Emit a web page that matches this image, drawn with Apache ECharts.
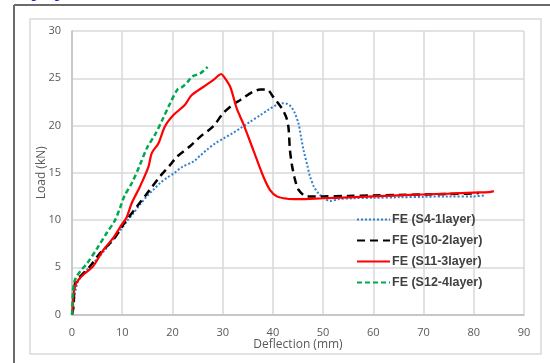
<!DOCTYPE html>
<html><head><meta charset="utf-8">
<script src="https://cdn.jsdelivr.net/npm/echarts@6/dist/echarts.min.js"></script>
<style>html,body{margin:0;padding:0;background:#fff}#c{width:550px;height:363px}</style>
</head><body><div id="c"></div>
<script>
const xTicks = [0,10,20,30,40,50,60,70,80,90];
const yTicks = [0,5,10,15,20,25,30];
const seriesNames = ['FE (S4-1layer)','FE (S10-2layer)','FE (S11-3layer)','FE (S12-4layer)'];
const s4 = [[0,0],[0.3,1.2],[0.8,2.8],[1.3,3.6],[2.9,4.7],[4.5,5.6],[6.2,6.6],[8,7.8],[9.6,8.9],[11,9.9],[12.2,10.7],[13.5,11.6],[14.9,12.5],[16.2,13.2],[17.5,13.9],[19,14.5],[20.2,14.9],[21.9,15.6],[24.2,16.2],[25.5,16.8],[26.8,17.4],[28.5,18.1],[30.1,18.6],[32,19.2],[33.5,19.7],[35.5,20.4],[37.5,21.1],[39.2,21.7],[40.8,22.2],[42,22.35],[42.8,22.3],[43.6,22.0],[44.3,21.4],[45.1,20.2],[45.6,18.8],[46.1,17.4],[46.8,15.9],[47.4,14.6],[48.2,13.5],[49.1,12.8],[50.2,12.3],[51.4,12.0],[53,12.2],[56,12.3],[60,12.35],[65,12.4],[70,12.45],[75,12.5],[80,12.5],[82,12.6]];
const s10 = [[0,0],[0.3,0.8],[0.6,3.3],[1.6,4.0],[3.6,5.1],[5.6,6.5],[8.2,7.9],[10.6,9.8],[12.9,11.4],[15.5,13.2],[17.5,14.6],[19.5,15.8],[20.9,16.7],[23.5,17.8],[25.5,18.8],[28.1,19.9],[30.1,21.3],[32,22.2],[33.5,22.7],[36.1,23.6],[37.5,23.8],[38.8,23.8],[40.1,23.0],[41.8,21.8],[42.7,20.8],[43.1,19.8],[43.4,17.4],[43.8,15.8],[44.3,14.5],[45.1,13.2],[46.8,12.5],[50,12.5],[55,12.55],[60,12.6],[65,12.65],[70,12.7],[75,12.75],[80,12.8],[81,12.85]];
const s11 = [[0,0],[0.1,0.5],[0.27,1.9],[0.6,3.0],[1.26,3.65],[2.25,4.2],[4.2,5.1],[6.2,6.8],[8.2,8.1],[9.9,9.5],[10.9,10.3],[11.9,11.8],[13.5,13.5],[15.2,15.6],[15.9,17.1],[17.2,18.1],[18.5,19.9],[20.2,21.1],[22.5,22.2],[23.8,23.2],[26.2,24.1],[28.1,24.8],[29.2,25.3],[29.7,25.45],[30.2,25.2],[31.5,24.1],[32.8,21.8],[34.1,20.2],[36.1,17.4],[38.1,14.6],[39.4,13.2],[40.8,12.5],[42.8,12.25],[45,12.2],[50,12.3],[55,12.4],[60,12.5],[65,12.6],[70,12.7],[75,12.8],[80,12.9],[83,12.95],[84,13.05]];
const s12 = [[0,0],[0.2,2.5],[0.5,3.5],[1,4.1],[2,4.8],[3,5.4],[5,7],[7,8.7],[8.5,9.9],[9.5,11.2],[10.5,12.6],[12,14],[13.5,15.8],[15,17.7],[16.5,19],[18,20.6],[19.5,22.3],[21,23.8],[22,24.1],[23,24.6],[24,25.2],[25.5,25.5],[27,26.2]];

const chart = echarts.init(document.getElementById('c'), null, {renderer:'canvas'});
const labelFont = {color:'#595959', fontSize:11, fontFamily:'Open Sans'};
chart.setOption({
  animation:false,
  backgroundColor:'#fff',
  graphic:[
    {type:'line', shape:{x1:14,y1:5,x2:550,y2:5}, style:{stroke:'#6b6b6b', lineWidth:2}},
    {type:'line', shape:{x1:14,y1:5,x2:14,y2:363}, style:{stroke:'#6b6b6b', lineWidth:2}},
    {type:'rect', shape:{x:30,y:19,width:511,height:335}, style:{fill:'none', stroke:'#d9d9d9', lineWidth:1.5}},
    {type:'text', left:30, top:-13, style:{text:'g    g', fill:'#1a1acc', font:'14px Liberation Sans'}}
  ],
  grid:{left:72, right:26, top:31, bottom:48.5},
  legend:{
    orient:'vertical', left:351, top:208, itemWidth:33, itemHeight:14, itemGap:8,
    data:seriesNames,
    itemStyle:{opacity:0},
    textStyle:{color:'#404040', fontSize:12.5, fontWeight:'bold', fontFamily:'Liberation Sans', padding:[0,0,0,-3]}
  },
  xAxis:{
    type:'value', min:0, max:90, interval:10,
    name:'Deflection (mm)', nameLocation:'middle', nameGap:24, nameMoveOverlap:false,
    nameTextStyle:{color:'#595959', fontSize:12, fontFamily:'Open Sans'},
    axisLine:{show:true, lineStyle:{color:'#bfbfbf', width:1.5}},
    axisTick:{show:false},
    axisLabel:Object.assign({margin:13, formatter:v=>xTicks.includes(v)?String(v):''}, labelFont),
    splitLine:{show:true, lineStyle:{color:'#d9d9d9', width:1.5}}
  },
  yAxis:{
    type:'value', min:0, max:30, interval:5,
    name:'Load (kN)', nameLocation:'middle', nameGap:24, nameMoveOverlap:false,
    nameTextStyle:{color:'#595959', fontSize:12, fontFamily:'Open Sans'},
    axisLine:{show:true, lineStyle:{color:'#bfbfbf', width:1.5}},
    axisTick:{show:false},
    axisLabel:Object.assign({margin:11, formatter:v=>yTicks.includes(v)?String(v):''}, labelFont),
    splitLine:{show:true, lineStyle:{color:'#d9d9d9', width:1.5}}
  },
  series:[
    {name:seriesNames[0], type:'line', data:s4, symbol:'none', smooth:0.3, lineStyle:{color:'#2f7fce', width:2, type:[2,2]}, itemStyle:{color:'#2f7fce'}},
    {name:seriesNames[1], type:'line', data:s10, symbol:'none', smooth:0.3, lineStyle:{color:'#000', width:2.5, type:[8,5]}, itemStyle:{color:'#000'}},
    {name:seriesNames[2], type:'line', data:s11, symbol:'none', smooth:0.3, lineStyle:{color:'#ff0000', width:2.2, type:'solid'}, itemStyle:{color:'#ff0000'}},
    {name:seriesNames[3], type:'line', data:s12, symbol:'none', smooth:0.3, lineStyle:{color:'#00a84f', width:2.5, type:[5,3]}, itemStyle:{color:'#00a84f'}}
  ]
});
</script></body></html>
